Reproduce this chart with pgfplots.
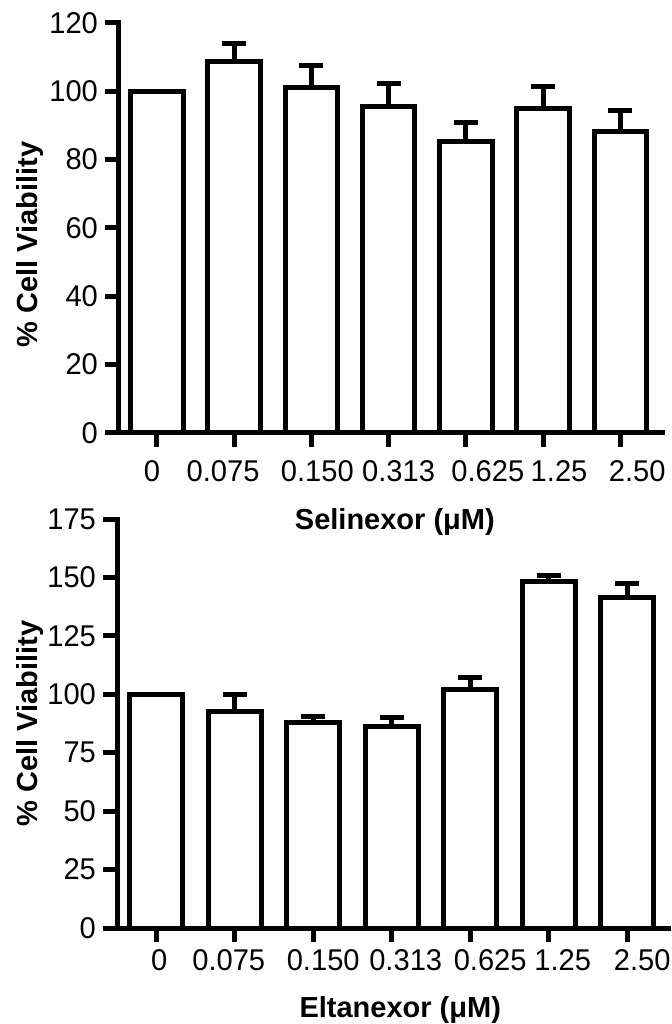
\documentclass[border=0pt]{standalone}
\usepackage{fontspec}
\setmainfont{Liberation Sans}
\newfontfamily\ticknarrow[FakeStretch=0.97]{Liberation Sans}
\usepackage{pgfplots}
\usepackage{pgfplotstable}
\pgfplotsset{compat=1.18}

\pgfplotstableread{
x val err
0 100 0
1 108.7 5.3
2 101.2 6.3
3 95.5 6.9
4 85.3 5.7
5 94.9 6.6
6 88.2 6.3
}\selinexor

\pgfplotstableread{
x val err
0 100 0
1 92.6 7.4
2 87.9 2.7
3 86.1 3.9
4 101.9 5.3
5 148.2 2.7
6 141.2 6.0
}\eltanexor

\newcommand\labfont{\fontsize{14.5}{17}\selectfont\bfseries}
\newcommand\sh[2]{\hspace*{#1pt}#2\hspace*{-#1pt}}

\pgfplotsset{
  prismbar/.style={
    scale only axis,
    anchor=south west,
    axis x line=bottom,
    axis y line=left,
    axis line style={-, line width=2.5pt, line cap=rect},
    major tick style={line width=2.5pt, black},
    tick align=outside,
    major tick length=7pt,
    xtick={0,...,6},
    xmin=-0.49, xmax=6.54,
    ymin=0,
    clip=false,
    ybar,
    bar width=0.68,
    bar shift=0pt,
    /pgf/number format/assume math mode=true,
    tick label style={font=\fontsize{15}{18}\ticknarrow},
  },
  prismseries/.style={
    draw=black, fill=white, line width=2.5pt,
    error bars/.cd, y dir=plus, y explicit,
    error bar style={line width=2.5pt, black},
    error mark=|,
    error mark options={line width=2.5pt, mark size=6pt, black},
  },
}

\begin{document}
\begin{tikzpicture}
\path[use as bounding box] (0,0) rectangle (336pt,512pt);

\begin{axis}[prismbar,
  at={(59.5pt,295.5pt)},
  width=271.5pt, height=205pt,
  ymax=120, ytick={0,20,...,120},
  xticklabels={\sh{-2.5}{0},\sh{-5.5}{0.075},\sh{3}{0.150},\sh{5}{0.313},\sh{11}{0.625},\sh{8}{1.25},\sh{8.5}{2.50}},
  xticklabel style={yshift=-3pt},
  ylabel={\% Cell Viability},
  xlabel={Selinexor (μM)},
  every axis x label/.style={at={(axis description cs:0.508,-0.217)}, anchor=center, font=\labfont},
  every axis y label/.style={at={(axis description cs:-0.164,0.46)}, rotate=90, anchor=center, font=\labfont},
]
\addplot[prismseries] table[x=x, y=val, y error=err] {\selinexor};
\end{axis}

\begin{axis}[prismbar,
  at={(58.5pt,48pt)},
  width=275.5pt, height=204.5pt,
  xmin=-0.50, xmax=6.52,
  ymax=175, ytick={0,25,...,175},
  xticklabels={\sh{1.5}{0},\sh{-3}{0.075},\sh{5}{0.150},\sh{7}{0.313},\sh{10}{0.625},\sh{7}{1.25},\sh{7.5}{2.50}},
  xticklabel style={yshift=0pt},
  ylabel={\% Cell Viability},
  xlabel={Eltanexor (μM)},
  every axis x label/.style={at={(axis description cs:0.514,-0.200)}, anchor=center, font=\labfont},
  every axis y label/.style={at={(axis description cs:-0.158,0.5)}, rotate=90, anchor=center, font=\labfont},
]
\addplot[prismseries] table[x=x, y=val, y error=err] {\eltanexor};
\end{axis}
\end{tikzpicture}
\end{document}
